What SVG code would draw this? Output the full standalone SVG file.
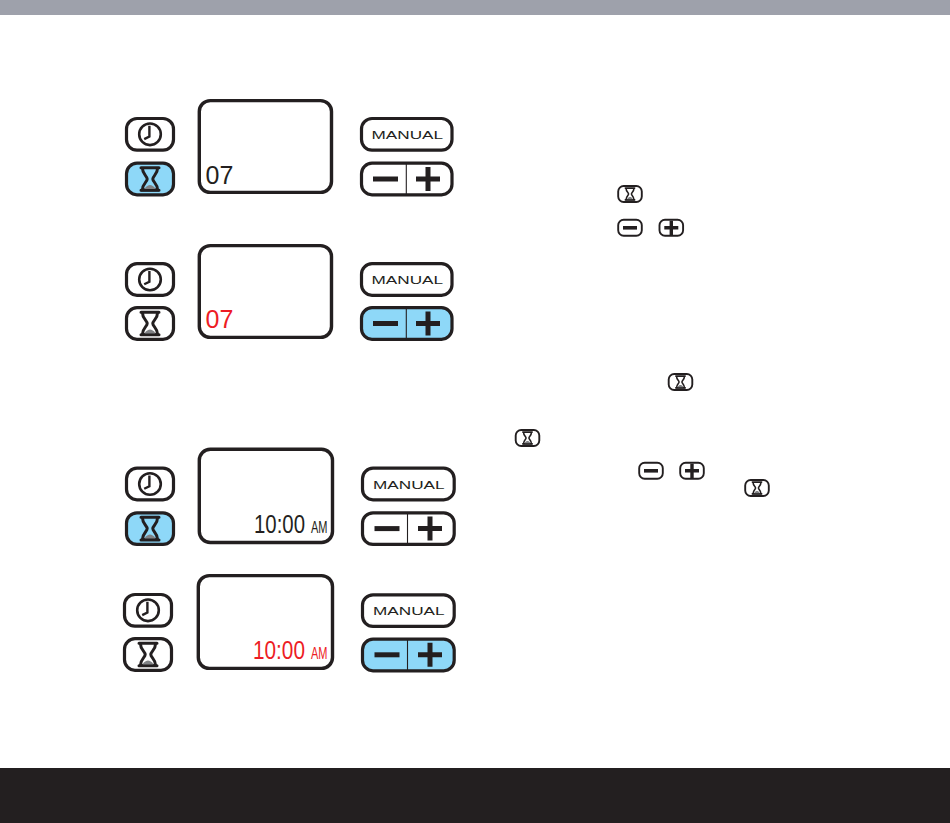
<svg xmlns="http://www.w3.org/2000/svg" width="950" height="823" viewBox="0 0 950 823">
<style>
.scr{fill:#fff;stroke:#231f20;stroke-width:3.4}
.btn{fill:#fff;stroke:#231f20;stroke-width:3.2}
.on{fill:#8ed8f8}
.ln{fill:none;stroke:#231f20;stroke-width:3}
.man{font-family:"Liberation Sans",Arial,sans-serif;font-size:11.2px;fill:#231f20;text-anchor:middle}
.seg{font-family:"Liberation Sans",Arial,sans-serif;font-size:25px;fill:#231f20}
.am{font-family:"Liberation Sans",Arial,sans-serif;font-size:16.5px;fill:#231f20}
.red{fill:#ed1c24}
.div{stroke:#231f20;stroke-width:1.1}
.sb{fill:#fff;stroke:#231f20;stroke-width:1.9}
</style>
<defs>
<g id="clock">
<circle r="10.8" fill="none" stroke="#231f20" stroke-width="2.6"/>
<path d="M-.6-8.6V2.2L-5.8 4.8" fill="none" stroke="#231f20" stroke-width="2.4"/>
</g>
<g id="glass">
<path d="M-9-11.3H9M-9 11.3H9" class="ln" stroke-linecap="round"/>
<path d="M-7.6-11C-7.6-4.500-2.800-3-2.800 0-2.800 3-7.600 4.500-7.600 11H7.600C7.600 4.500 2.800 3 2.800 0 2.800-3 7.600-4.500 7.600-11" class="ln"/>
<path d="M-5.500 10C-4 7-1.500 6 0 6S4 7 5.500 10Z" fill="#808285"/>
</g>
<g id="sm">
<path d="M-12.500 0H12.500" fill="none" stroke="#231f20" stroke-width="5"/>
</g>
<g id="pl">
<path d="M-12 0H12M0-12V12" fill="none" stroke="#231f20" stroke-width="5"/>
</g>
<g id="sglass">
<rect x="-11.8" y="-8" width="23.6" height="16" rx="5.500" class="sb"/>
<use href="#glass" transform="scale(.52)"/>
</g>
<g id="sminus">
<rect x="-11.8" y="-8" width="23.6" height="16" rx="5.500" class="sb"/>
<path d="M-7 0H7" fill="none" stroke="#231f20" stroke-width="3.6"/>
</g>
<g id="splus">
<rect x="-11.8" y="-8" width="23.6" height="16" rx="5.500" class="sb"/>
<path d="M-7 0H7M0-7V8" fill="none" stroke="#231f20" stroke-width="3.4"/>
</g>
</defs>

<rect id="top-bar" x="0" y="0" width="950" height="15" fill="#9ea1ab"/>
<rect id="bottom-bar" x="0" y="768" width="950" height="55" fill="#231f20"/>

<g id="panel-1">
<rect class="scr" x="199.300" y="100.600" width="132.200" height="91.800" rx="11"/>
<rect class="btn" x="126.500" y="118.500" width="47" height="31.600" rx="10.500"/>
<use href="#clock" x="150" y="134.300"/>
<rect class="btn on" x="126.500" y="163.200" width="47" height="31.600" rx="10.500"/>
<use href="#glass" x="150" y="179"/>
<rect class="btn" x="361.500" y="118.500" width="90.500" height="31.600" rx="10.500"/>
<text class="man" x="407.300" y="138.800" textLength="71.500" lengthAdjust="spacingAndGlyphs">MANUAL</text>
<rect class="btn" x="361.500" y="163.200" width="90.500" height="31.600" rx="10.500"/>
<line class="div" x1="406.300" y1="163" x2="406.300" y2="195"/>
<use href="#sm" x="385.500" y="179"/>
<use href="#pl" x="428" y="179"/>
<text class="seg" x="205.500" y="184">07</text>
</g>

<g id="panel-2">
<rect class="scr" x="199.300" y="245.600" width="132.200" height="91.800" rx="11"/>
<rect class="btn" x="126.500" y="263.700" width="47" height="31.600" rx="10.500"/>
<use href="#clock" x="150" y="279.500"/>
<rect class="btn" x="126.500" y="307.700" width="47" height="31.600" rx="10.500"/>
<use href="#glass" x="150" y="323.500"/>
<rect class="btn" x="361.500" y="263.700" width="90.500" height="31.600" rx="10.500"/>
<text class="man" x="407.300" y="284" textLength="71.500" lengthAdjust="spacingAndGlyphs">MANUAL</text>
<rect class="btn on" x="361.500" y="307.700" width="90.500" height="31.600" rx="10.500"/>
<line class="div" x1="406.300" y1="307.500" x2="406.300" y2="339.500"/>
<use href="#sm" x="385.500" y="323.500"/>
<use href="#pl" x="428" y="323.500"/>
<text class="seg red" x="205.500" y="328">07</text>
</g>

<g id="panel-3">
<rect class="scr" x="199.300" y="449.300" width="133.200" height="93.200" rx="11"/>
<rect class="btn" x="126.500" y="468.200" width="47" height="31.600" rx="10.500"/>
<use href="#clock" x="150" y="484"/>
<rect class="btn on" x="126.500" y="512.800" width="47" height="31.600" rx="10.500"/>
<use href="#glass" x="150" y="528.600"/>
<rect class="btn" x="362.500" y="468.200" width="91.700" height="31.600" rx="10.500"/>
<text class="man" x="408.800" y="488.500" textLength="71.500" lengthAdjust="spacingAndGlyphs">MANUAL</text>
<rect class="btn" x="362.500" y="512.800" width="91.700" height="31.600" rx="10.500"/>
<line class="div" x1="407.500" y1="512.600" x2="407.500" y2="544.600"/>
<use href="#sm" x="387" y="528.600"/>
<use href="#pl" x="430" y="528.600"/>
<text class="seg" transform="translate(254 533) scale(.815 1)">10:00</text>
<text class="am" transform="translate(311 533) scale(.667 1)">AM</text>
</g>

<g id="panel-4">
<rect class="scr" x="198.300" y="575.600" width="134.200" height="92.800" rx="11"/>
<rect class="btn" x="124.500" y="594.500" width="47" height="31.600" rx="10.500"/>
<use href="#clock" x="148" y="610.300"/>
<rect class="btn" x="124.500" y="638.700" width="47" height="31.600" rx="10.500"/>
<use href="#glass" x="148" y="654.500"/>
<rect class="btn" x="362.500" y="594.800" width="91.700" height="31.600" rx="10.500"/>
<text class="man" x="408.800" y="615" textLength="71.500" lengthAdjust="spacingAndGlyphs">MANUAL</text>
<rect class="btn on" x="362.500" y="639.200" width="91.700" height="31.600" rx="10.500"/>
<line class="div" x1="407.500" y1="639" x2="407.500" y2="671"/>
<use href="#sm" x="387" y="654.800"/>
<use href="#pl" x="430" y="654.800"/>
<text class="seg red" transform="translate(253 659) scale(.83 1)">10:00</text>
<text class="am red" transform="translate(311 659) scale(.667 1)">AM</text>
</g>

<g id="inline-icons">
<use href="#sglass" x="630" y="194"/>
<use href="#sminus" x="630" y="227.800"/>
<use href="#splus" x="671.300" y="227.800"/>
<use href="#sglass" x="680.500" y="382"/>
<use href="#sglass" x="527.500" y="438"/>
<use href="#sminus" x="651" y="470.800"/>
<use href="#splus" x="692" y="470.800"/>
<use href="#sglass" x="757" y="488"/>
</g>

<g id="connectors"></g>
</svg>
